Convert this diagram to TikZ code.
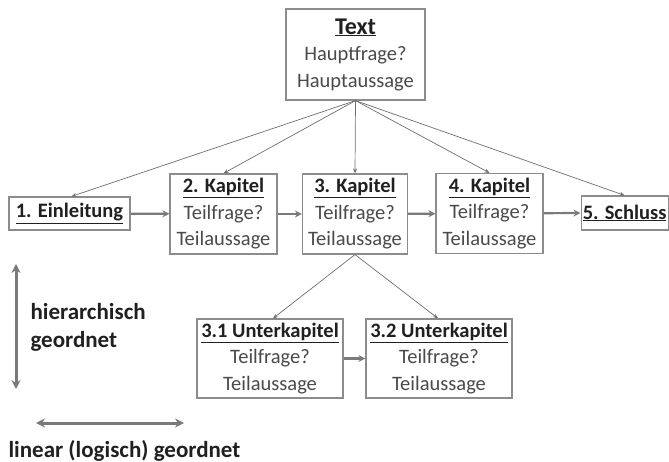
\documentclass[tikz,border=0pt]{standalone}
\usepackage{fontspec}
\setmainfont{Carlito}
\usetikzlibrary{arrows.meta}
\definecolor{boxline}{HTML}{8C8C8C}
\definecolor{txt}{HTML}{4A4A4A}
\definecolor{ttl}{HTML}{202020}
\definecolor{flow}{HTML}{7A7A7A}
\begin{document}
\begin{tikzpicture}[x=1pt,y=-1pt,
  box/.style={draw=boxline,line width=1.2pt,fill=white,align=center,text=txt,
    font=\fontsize{20.5}{26.5}\selectfont,inner sep=0pt},
  hier/.style={draw=txt!80,line width=0.7pt,-{Stealth[length=5pt,width=4pt]}},
  seq/.style={draw=flow,line width=2.2pt,-{Stealth[length=7pt,width=7pt]}},
  legend/.style={draw=flow,line width=3pt,{Stealth[length=9pt,width=9pt]}-{Stealth[length=9pt,width=9pt]}},
  lbl/.style={anchor=west,text=ttl,font=\fontsize{23}{28}\selectfont\bfseries,align=left}]
\useasboundingbox (0,0) rectangle (669,462);
\newcommand{\ttitle}[1]{{\bfseries\color{ttl}\underline{#1}}}
% main question
\node[box,minimum width=139pt,minimum height=91pt] (text) at (355.5,54.5)
  {{\fontsize{24}{26.5}\selectfont\ttitle{Text}}\\Hauptfrage?\\Hauptaussage};
% chapters
\node[box,minimum width=121pt,minimum height=33pt] (k1) at (69.5,213.5) {\ttitle{1. Einleitung}};
\node[box,minimum width=107pt,minimum height=80pt] (k2) at (223.5,214) {\ttitle{2. Kapitel}\\Teilfrage?\\Teilaussage};
\node[box,minimum width=105pt,minimum height=80pt] (k3) at (355,214) {\ttitle{3. Kapitel}\\Teilfrage?\\Teilaussage};
\node[box,minimum width=107pt,minimum height=80pt] (k4) at (489.5,213.5) {\ttitle{4. Kapitel}\\Teilfrage?\\Teilaussage};
\node[box,minimum width=87pt,minimum height=34pt,anchor=west] (k5) at (580.5,213)
  {\ttitle{5. Schluss}};
% sub-chapters
\node[box,minimum width=146pt,minimum height=79pt] (u1) at (270,358.5) {\ttitle{3.1 Unterkapitel}\\Teilfrage?\\Teilaussage};
\node[box,minimum width=146pt,minimum height=79pt] (u2) at (439,358.5) {\ttitle{3.2 Unterkapitel}\\Teilfrage?\\Teilaussage};
% hierarchy links
\draw[hier] (text.south) -- ([xshift=2pt]k1.north);
\draw[hier] (text.south) -- (k2.north);
\draw[hier] (text.south) -- (k3.north);
\draw[hier] (text.south) -- (k4.north);
\draw[hier] (text.south) -- (k5.north);
\draw[hier] (k3.south) -- ([xshift=3pt]u1.north);
\draw[hier] (k3.south) -- ([xshift=-1pt]u2.north);
% sequence links
\draw[seq] (k1) -- (k2);
\draw[seq] (k2) -- (k3);
\draw[seq] (k3) -- (k4);
\draw[seq] (k4) -- (k5.west);
\draw[seq] (u1) -- (u2);
% legend
\coordinate (vt) at (16,264);
\coordinate (vb) at (16,389);
\coordinate (hl) at (36,423);
\coordinate (hr) at (184,423);
\draw[legend] (vt) -- (vb);
\draw[legend] (hl) -- (hr);
\node[lbl] (hlab) at (27,327) {hierarchisch\\geordnet};
\node[lbl] (llab) at (5,451) {linear (logisch) geordnet};
\end{tikzpicture}
\end{document}
